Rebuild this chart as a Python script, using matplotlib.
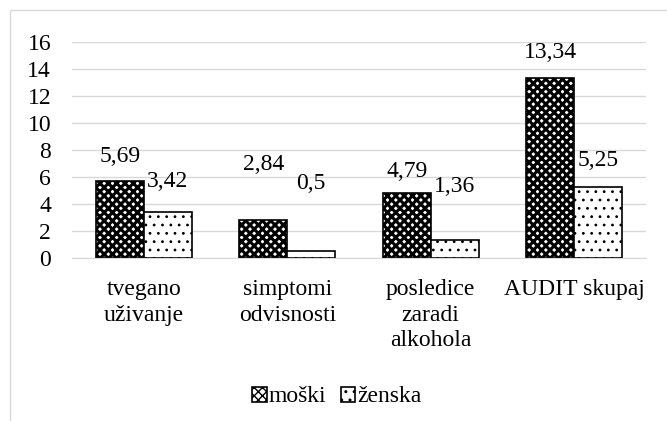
import numpy as np
import matplotlib
matplotlib.use("Agg")
import matplotlib.pyplot as plt
import matplotlib.patches as patches

categories = ["tvegano\nuživanje", "simptomi\nodvisnosti", "posledice\nzaradi\nalkohola", "AUDIT skupaj"]
moski = [5.69, 2.84, 4.79, 13.34]
zenska = [3.42, 0.5, 1.36, 5.25]
series_names = ["moški", "ženska"]
y_ticks = [0, 2, 4, 6, 8, 10, 12, 14, 16]

# label offsets above bar tops (points), as placed in the original
moski_label_off = [18, 40, 16, 18]
zenska_label_off = [21, 48, 37, 18]

plt.rcParams['font.family'] = ['Liberation Serif', 'DejaVu Serif']

fig = plt.figure(figsize=(6.67, 4.21), dpi=100)
fig.patches.append(patches.Rectangle((10 / 667, -0.05), 1.0, 1.05 - 10 / 421,
                                     transform=fig.transFigure, fill=False,
                                     edgecolor='#d9d9d9', linewidth=1))
ax = fig.add_axes([72 / 667, 1 - 258 / 421, 574 / 667, 216 / 421])

x = np.arange(len(categories))
w = 0.335
with plt.rc_context({'hatch.linewidth': 2.2}):
    b1 = ax.bar(x - w / 2, moski, w, color='white', edgecolor='black', hatch='xxxx',
                linewidth=1.2, label=series_names[0], zorder=3)
with plt.rc_context({'hatch.linewidth': 0.8}):
    b2 = ax.bar(x + w / 2, zenska, w, color='white', edgecolor='black', hatch='..',
                linewidth=1.2, label=series_names[1], zorder=3)

fs = 17
for rect, v, off in zip(b1, moski, moski_label_off):
    ax.annotate(f"{v:g}".replace('.', ','), (rect.get_x() + rect.get_width() / 2, v),
                xytext=(0, off), textcoords='offset points', ha='center', va='center',
                fontsize=fs)
for rect, v, off in zip(b2, zenska, zenska_label_off):
    ax.annotate(f"{v:g}".replace('.', ','), (rect.get_x() + rect.get_width() / 2, v),
                xytext=(0, off + 1), textcoords='offset points', ha='center', va='center',
                fontsize=fs)

ax.set_xlim(-0.5, len(categories) - 0.5)
ax.set_ylim(0, 16)
ax.set_yticks(y_ticks)
ax.set_xticks(x)
ax.set_xticklabels(categories, fontsize=fs, linespacing=1.3, va='top')
ax.tick_params(axis='y', labelsize=fs, length=0, pad=15)
ax.tick_params(axis='x', length=0, pad=15)
ax.grid(axis='y', color='#d9d9d9', linewidth=1, zorder=0)
for s in ['top', 'right', 'left']:
    ax.spines[s].set_visible(False)
ax.spines['bottom'].set_color('#d9d9d9')
ax.spines['bottom'].set_zorder(4)

fig.legend(handles=[b1, b2], loc='center', bbox_to_anchor=(337 / 667, 1 - 397 / 421),
           ncol=2, frameon=False, fontsize=fs, handlelength=0.6, handleheight=0.6,
           handletextpad=0.1, columnspacing=0.6)

fig.savefig("out.png", dpi=100)
